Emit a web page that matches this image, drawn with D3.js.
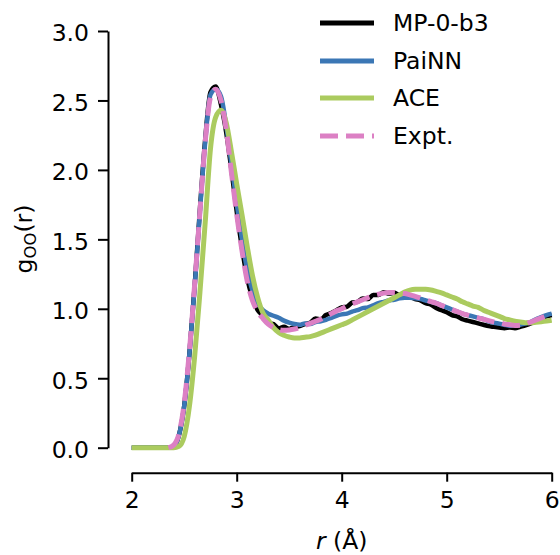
<!DOCTYPE html>
<html>
<head>
<meta charset="utf-8">
<script src="https://cdn.jsdelivr.net/npm/d3@7"></script>
<style>
  html, body { margin: 0; padding: 0; background: #fff; }
  svg text { font-family: "DejaVu Sans", sans-serif; fill: #000; }
</style>
</head>
<body>
<svg id="chart" width="560" height="555"></svg>
<script>
// Radial distance grid (Å), shared by all series
const rGrid = d3.range(0, 81).map(i => +(2 + i * 0.05).toFixed(2));

// O–O radial distribution functions g_OO(r) on rGrid
const mp0b3 = [
  0,0,0,0,0,0,0,0,
  0.01,0.09,0.30,0.68,1.17,1.72,2.22,2.56,2.60,2.47,2.27,2.00,
  1.70,1.44,1.22,1.08,0.99,0.95,0.90,0.89,0.86,0.87,
  0.855,0.87,0.875,0.89,0.90,0.93,0.925,0.955,0.97,0.99,
  1.01,1.015,1.045,1.05,1.075,1.07,1.10,1.10,1.12,1.11,
  1.115,1.10,1.10,1.085,1.07,1.06,1.04,1.03,1.005,0.99,
  0.975,0.955,0.945,0.925,0.915,0.905,0.895,0.885,0.875,0.87,
  0.865,0.86,0.865,0.86,0.87,0.88,0.895,0.91,0.93,0.945,
  0.955
];

const painn = [
  0,0,0,0,0,0,0,0,
  0.01,0.09,0.30,0.68,1.16,1.70,2.20,2.54,2.58,2.53,2.32,2.04,
  1.76,1.50,1.28,1.13,1.04,0.99,0.965,0.95,0.935,0.915,
  0.90,0.89,0.885,0.895,0.89,0.905,0.91,0.92,0.935,0.95,
  0.96,0.965,0.98,0.99,1.005,1.01,1.025,1.04,1.05,1.06,
  1.065,1.075,1.08,1.08,1.075,1.07,1.06,1.05,1.04,1.025,
  1.01,0.995,0.98,0.965,0.955,0.945,0.935,0.925,0.91,0.90,
  0.893,0.885,0.878,0.882,0.885,0.895,0.905,0.925,0.94,0.955,
  0.965
];

const ace = [
  0,0,0,0,0,0,0,0,0,
  0.01,0.08,0.30,0.66,1.12,1.62,2.15,2.38,2.43,2.34,2.13,
  1.90,1.68,1.45,1.24,1.08,0.97,0.92,0.865,0.83,0.81,
  0.797,0.79,0.79,0.795,0.80,0.81,0.825,0.84,0.855,0.87,
  0.885,0.90,0.92,0.94,0.96,0.98,1.00,1.02,1.04,1.06,
  1.08,1.10,1.12,1.135,1.14,1.14,1.14,1.135,1.125,1.115,
  1.10,1.085,1.07,1.05,1.035,1.02,1.01,0.99,0.975,0.96,
  0.945,0.93,0.92,0.91,0.905,0.90,0.90,0.903,0.907,0.912,
  0.918
];

// Experimental curve starts at r = 2.35 Å
const exptStart = 7;
const expt = [
  0.00,0.02,0.10,0.32,0.70,1.18,1.70,2.20,2.52,2.58,2.50,2.29,
  1.98,1.68,1.42,1.20,1.06,0.98,0.93,0.89,0.865,0.85,
  0.845,0.848,0.855,0.865,0.88,0.895,0.91,0.925,0.945,0.965,
  0.985,1.00,1.02,1.035,1.05,1.065,1.08,1.095,1.105,1.113,
  1.117,1.118,1.115,1.11,1.10,1.09,1.078,1.065,1.052,1.04,
  1.025,1.01,0.995,0.98,0.965,0.955,0.945,0.935,0.925,0.915,
  0.905,0.90,0.89,0.885,0.88,0.882,0.89,0.905,0.92,0.935,
  0.95,0.965
];

const seriesNames = ["MP-0-b3", "PaiNN", "ACE", "Expt."];
const seriesColors = ["#000000", "#3b77b5", "#abcb5f", "#dc80c4"];
const xTicks = [2, 3, 4, 5, 6];
const yTicks = [0, 0.5, 1.0, 1.5, 2.0, 2.5, 3.0];

const svg = d3.select("#chart");
const fontSize = 23.5;

const x = d3.scaleLinear().domain([2, 6]).range([131.7, 551.7]);
const y = d3.scaleLinear().domain([0, 3]).range([447.7, 31]);

// Axes (offset spines, no top/right)
const xAxis = svg.append("g")
  .attr("transform", "translate(0,472.7)")
  .call(d3.axisBottom(x).tickValues(xTicks).tickFormat(d3.format("d"))
        .tickSizeOuter(0).tickSizeInner(9).tickPadding(10));
const yAxis = svg.append("g")
  .attr("transform", "translate(108,0)")
  .call(d3.axisLeft(y).tickValues(yTicks).tickFormat(d3.format(".1f"))
        .tickSizeOuter(0).tickSizeInner(10).tickPadding(9));

[xAxis, yAxis].forEach(g => {
  g.select(".domain").attr("stroke", "#000").attr("stroke-width", 2);
  g.selectAll(".tick line").attr("stroke", "#000").attr("stroke-width", 2);
  g.selectAll(".tick text")
    .attr("font-family", "DejaVu Sans, sans-serif")
    .attr("font-size", fontSize)
    .attr("fill", "#000");
});
yAxis.selectAll(".tick text").attr("dy", "0.42em");

// Curves
const line = d3.line()
  .x(d => x(d[0]))
  .y(d => y(d[1]))
  .curve(d3.curveMonotoneX);

const toPts = (vals, start) => vals.map((v, i) => [rGrid[i + start], v]);

const plot = svg.append("g");
const drawn = [
  { pts: toPts(mp0b3, 0), color: seriesColors[0], width: 4.5, dash: null },
  { pts: toPts(painn, 0), color: seriesColors[1], width: 4.5, dash: null },
  { pts: toPts(ace, 0),   color: seriesColors[2], width: 5,   dash: null },
  { pts: toPts(expt, exptStart), color: seriesColors[3], width: 5, dash: "18,8" }
];
drawn.forEach(s => {
  plot.append("path")
    .attr("d", line(s.pts))
    .attr("fill", "none")
    .attr("stroke", s.color)
    .attr("stroke-width", s.width)
    .attr("stroke-linejoin", "round")
    .attr("stroke-linecap", "butt")
    .attr("stroke-dasharray", s.dash);
});

// Legend
const legendRows = [23, 61, 98, 136];
const legend = svg.append("g");
seriesNames.forEach((name, i) => {
  const row = legend.append("g").attr("transform", `translate(0,${legendRows[i]})`);
  row.append("line")
    .attr("x1", 320).attr("x2", 374)
    .attr("stroke", seriesColors[i])
    .attr("stroke-width", 5)
    .attr("stroke-dasharray", i === 3 ? "18,8" : null);
  row.append("text")
    .attr("x", 393).attr("y", 0).attr("dy", "0.36em")
    .attr("font-size", fontSize)
    .text(name);
});

// Axis labels
const xl = svg.append("text")
  .attr("x", 341.7).attr("y", 549)
  .attr("text-anchor", "middle")
  .attr("font-size", fontSize);
xl.append("tspan").attr("font-style", "italic").text("r");
xl.append("tspan").text(" (Å)");

const yl = svg.append("text")
  .attr("transform", "translate(32,239) rotate(-90)")
  .attr("text-anchor", "middle")
  .attr("font-size", fontSize);
yl.append("tspan").text("g");
yl.append("tspan").attr("font-size", fontSize * 0.7).attr("dy", 4).text("OO");
yl.append("tspan").attr("dy", -4).text("(r)");
</script>
</body>
</html>
